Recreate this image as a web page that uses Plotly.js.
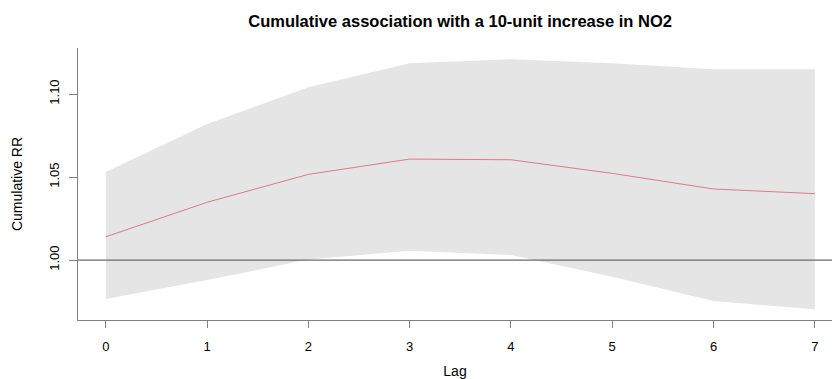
<!DOCTYPE html>
<html>
<head>
<meta charset="utf-8">
<script src="https://cdn.plot.ly/plotly-3.0.1.min.js"></script>
<style>html,body{margin:0;padding:0;background:#fff;}#chart{width:832px;height:379px;}</style>
</head>
<body>
<div id="chart"></div>
<script>
const lags = [0, 1, 2, 3, 4, 5, 6, 7];
const rrFit = [1.014, 1.0348, 1.0516, 1.0608, 1.0604, 1.0522, 1.0428, 1.0400];
const rrLow = [0.9765, 0.988, 1.0003, 1.0056, 1.003, 0.990, 0.9753, 0.9703];
const rrHigh = [1.053, 1.082, 1.104, 1.1185, 1.121, 1.1185, 1.1149, 1.1149];
const xTicks = [0, 1, 2, 3, 4, 5, 6, 7];
const yTicks = [1.00, 1.05, 1.10];
const yTickText = ['1.00', '1.05', '1.10'];

const fam = 'Liberation Sans, Arial, sans-serif';
const tickFont = {family: fam, size: 13, color: '#000'};
const titleFont = {family: fam, size: 14, color: '#000'};

const traces = [
  {x: lags, y: rrLow, type: 'scatter', mode: 'lines', line: {width: 0}, hoverinfo: 'skip', showlegend: false},
  {x: lags, y: rrHigh, type: 'scatter', mode: 'lines', line: {width: 0}, fill: 'tonexty', fillcolor: '#e5e5e5', hoverinfo: 'skip', showlegend: false},
  {x: [-1, 9], y: [1, 1], type: 'scatter', mode: 'lines', line: {color: '#6b6b6b', width: 1.2}, showlegend: false},
  {x: lags, y: rrFit, type: 'scatter', mode: 'lines', line: {color: '#e0788a', width: 1}, showlegend: false}
];

const layout = {
  width: 832, height: 379,
  margin: {l: 78, r: 0, t: 48, b: 59},
  paper_bgcolor: '#fff', plot_bgcolor: '#fff',
  font: tickFont,
  title: {text: '<b>Cumulative association with a 10-unit increase in NO2</b>', font: {family: fam, size: 16.5, color: '#000'}, x: 0.553, xanchor: 'center', y: 0.945, yanchor: 'middle'},
  xaxis: {
    range: [-0.275, 7.17], tickvals: xTicks, ticktext: xTicks.map(String),
    showgrid: false, zeroline: false, showline: true, linecolor: '#808080', linewidth: 1,
    ticks: 'outside', ticklen: 7, tickcolor: '#808080', tickwidth: 1,
    tickfont: tickFont, ticklabelstandoff: 7,
    title: {text: 'Lag', font: titleFont, standoff: 16}
  },
  yaxis: {
    range: [0.9639, 1.1277], tickvals: yTicks, ticktext: yTickText, tickangle: -90,
    showgrid: false, zeroline: false, showline: true, linecolor: '#808080', linewidth: 1,
    ticks: 'outside', ticklen: 8, tickcolor: '#808080', tickwidth: 1,
    tickfont: tickFont, ticklabelstandoff: 5,
    title: {text: 'Cumulative RR', font: titleFont, standoff: 20}
  },
  showlegend: false
};

Plotly.newPlot('chart', traces, layout, {staticPlot: true, displayModeBar: false});
</script>
</body>
</html>
